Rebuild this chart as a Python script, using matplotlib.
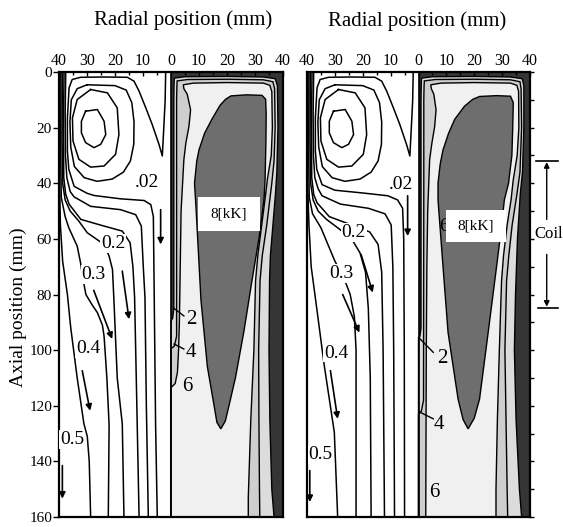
import matplotlib
matplotlib.use('Agg')
import matplotlib.pyplot as plt
from matplotlib.patches import Polygon, Rectangle

plt.rcParams['font.family'] = ['Liberation Serif', 'DejaVu Serif']

# ---- stream function (left half, r < 0), points as (r mm, z mm) ----
VORTEX_LOOPS = [
    [(-30.5, 14.1), (-26.3, 13.5), (-23.9, 17.7), (-23.3, 22.5), (-25.1, 26.0),
     (-27.5, 27.2), (-30.5, 25.4), (-32.0, 21.9), (-32.0, 17.7)],
    [(-28.7, 6.3), (-22.7, 7.5), (-19.2, 12.9), (-18.6, 22.5), (-19.8, 29.6),
     (-23.9, 33.8), (-28.7, 34.2), (-32.9, 31.4), (-35.0, 24.8), (-35.2, 16.5),
     (-33.5, 9.9)],
    [(-30.0, 4.6), (-20.0, 4.9), (-16.0, 6.5), (-14.0, 11.0), (-13.2, 18.0),
     (-13.3, 26.0), (-14.5, 32.0), (-17.0, 36.0), (-21.0, 38.5), (-26.4, 39.3),
     (-31.0, 38.0), (-34.5, 34.0), (-35.8, 27.0), (-36.1, 18.0), (-35.6, 10.0),
     (-33.5, 6.0)],
]

V_LINE = [(-1.9, 0), (-2.1, 10.5), (-2.7, 22.5), (-3.1, 30.2), (-4.3, 26.0),
          (-6.7, 18.9), (-9.0, 12.9), (-11.4, 6.9), (-13.2, 3.3), (-15.6, 1.9),
          (-23.9, 1.8), (-32.3, 1.9), (-35.3, 2.7), (-36.4, 5.7), (-37.0, 16.5),
          (-37.0, 28.4), (-36.5, 35.0)]

STREAMS_A = [
    [(-34.6, 41.1), (-30.0, 43.6), (-27.5, 44.4), (-18.0, 45.6), (-9.6, 46.2),
     (-7.2, 47.7), (-6.3, 52.0), (-6.0, 80.0), (-5.5, 127.0), (-4.9, 160.0)],
    [(-37.6, 0), (-37.8, 15), (-37.7, 30), (-37.2, 38), (-36.0, 43), (-34.6, 44.9),
     (-28.7, 48.3), (-18.0, 49.5), (-12.6, 51.3), (-10.6, 55.4), (-9.9, 70),
     (-9.3, 81), (-8.8, 120), (-8.1, 160)],
    [(-38.2, 0), (-38.4, 20), (-38.3, 38), (-37.6, 44), (-36.4, 47.5), (-32.2, 53),
     (-23.9, 55.4), (-17.4, 57.2), (-14.6, 61.4), (-13.6, 70), (-13.0, 81),
     (-12.2, 120), (-11.4, 160)],
    [(-38.8, 0), (-38.9, 25), (-38.7, 40), (-37.8, 46), (-36.0, 50), (-33.0, 53.5),
     (-29.9, 57.8), (-23.9, 62), (-22.1, 66.2), (-20.9, 71), (-20.4, 81.7),
     (-19.2, 110), (-17.4, 126.5), (-16.8, 160)],
    [(-39.3, 0), (-39.4, 30), (-39.2, 45), (-37.8, 52), (-36.5, 56), (-33.5, 62.6),
     (-32.3, 68.6), (-31.5, 74), (-30.4, 80), (-28.0, 84), (-26.3, 86.5),
     (-24.5, 91), (-23.9, 95), (-22.9, 110), (-22.1, 127), (-22.4, 160)],
    [(-39.7, 0), (-39.8, 40), (-39.5, 55), (-38.7, 68), (-37.0, 80), (-35.8, 92),
     (-33.5, 110), (-31.1, 126.5), (-29.9, 131), (-29.2, 140), (-28.7, 160)],
]

STREAMS_B = [
    [(-34.6, 40.5), (-30.0, 42.5), (-20.0, 43.5), (-11.0, 44.5), (-7.5, 46.0),
     (-5.7, 49.0), (-5.3, 60.0), (-5.1, 100.0), (-5.0, 160.0)],
    [(-37.6, 0), (-37.8, 15), (-37.7, 30), (-37.2, 38), (-36.0, 42), (-34.6, 44.5),
     (-28.0, 47.5), (-18.0, 49.0), (-12.0, 51.0), (-9.8, 55.0), (-9.2, 70),
     (-8.9, 100), (-8.6, 160)],
    [(-38.2, 0), (-38.4, 20), (-38.3, 38), (-37.6, 44), (-36.4, 47), (-32.0, 52),
     (-24.0, 55), (-17.5, 57.5), (-14.5, 62), (-13.2, 72), (-12.7, 100),
     (-12.2, 160)],
    [(-38.8, 0), (-38.9, 25), (-38.7, 40), (-37.8, 46), (-36.0, 50), (-33.0, 53),
     (-29.0, 56), (-24.0, 60), (-21.0, 65), (-19.0, 72), (-18.0, 85),
     (-17.3, 110), (-17.0, 160)],
    [(-39.3, 0), (-39.4, 30), (-39.2, 45), (-38.0, 51), (-35.0, 56), (-32.5, 62),
     (-30.0, 68), (-27.0, 73.5), (-24.5, 80), (-23.0, 88), (-22.4, 100),
     (-22.4, 160)],
    [(-39.7, 0), (-39.8, 40), (-39.3, 55), (-38.5, 70), (-36.5, 85),
     (-33.8, 105.6), (-30.2, 129.5), (-29.0, 160)],
]

STREAM_LABELS = ['.02', '0.2', '0.3', '0.4', '0.5']
STREAM_LABEL_POS_A = [(-8.5, 39.9), (-20.6, 61.7), (-27.7, 72.9), (-29.6, 99.4), (-35.3, 132.1)]
STREAM_LABEL_POS_B = [(-6.3, 40.5), (-23.3, 57.8), (-27.5, 72.5), (-29.6, 101.1), (-35.2, 137.6)]

# flow arrows: (r0, z0, r1, z1)
ARROWS_A = [(-3.7, 49.5, -3.7, 62.0), (-17.4, 71.6, -15.0, 88.9), (-27.6, 78.5, -21.0, 96.0),
            (-31.7, 107.4, -28.9, 121.8), (-38.8, 141.5, -38.8, 153.4)]
ARROWS_B = [(-3.9, 44.5, -3.9, 59.0), (-20.6, 65.6, -16.4, 79.3), (-27.2, 80.0, -21.2, 93.7),
            (-31.6, 107.4, -29.0, 124.7), (-39.0, 143.3, -39.0, 154.6)]

# ---- temperature contours (right half, r > 0), levels 2, 4, 6, 8 kK ----
T2_A = [(1.2, 2.2), (5, 1.7), (20, 1.6), (33, 1.8), (37.2, 2.4), (38.0, 5), (38.2, 20),
        (37.8, 36), (37.3, 44), (36.4, 55), (35.5, 66), (35.2, 75), (35.0, 100),
        (35.3, 125), (36.0, 150), (36.8, 160), (0, 160), (0, 89.5), (0.6, 88.5),
        (1.0, 85), (1.0, 40), (1.0, 10), (1.1, 4)]
T4_A = [(2.2, 3.2), (6, 2.7), (20, 2.6), (33, 2.8), (36.4, 3.5), (37.0, 6), (37.2, 20),
        (36.8, 32), (36.0, 40), (34.2, 55), (32.6, 66), (31.8, 75), (31.3, 100),
        (31.4, 125), (31.6, 150), (31.7, 160), (0, 160), (0, 99.5), (1.2, 98.5),
        (2.0, 95), (2.0, 40), (2.0, 10), (2.1, 5)]
T6_A = [(4.4, 4.6), (8, 4.0), (20, 3.8), (33, 4.0), (35.3, 4.8), (36.0, 7), (36.2, 20),
        (35.8, 30), (34.4, 38.7), (33.8, 44), (32.4, 55), (31.0, 66), (30.2, 75),
        (29.6, 100), (28.5, 125), (27.6, 153), (27.6, 160), (0, 160), (0, 113.5),
        (1.5, 112), (2.3, 108), (2.7, 100), (3.0, 90), (3.3, 70), (3.6, 50),
        (4.6, 31.5), (5.3, 25.6), (6.4, 19.6), (7.0, 13.6), (5.8, 8), (4.6, 6)]
T8_A = [(21.4, 8.6), (27, 8.2), (32.5, 8.4), (33.8, 9.8), (34.0, 15), (33.9, 25),
        (33.6, 38.7), (33.2, 46), (31.4, 60), (29.0, 74.5), (26.0, 93.5), (23.0, 110),
        (20.7, 120), (19.4, 125.5), (17.8, 128.3), (16.4, 126), (15.4, 120),
        (13.0, 106), (10.7, 82), (9.0, 50), (8.4, 40), (9.2, 32), (10.0, 28),
        (12.0, 22), (14.6, 17), (17.5, 12), (19.5, 9.8)]

T2_B = [(1.1, 2.2), (5, 1.7), (20, 1.6), (33, 1.8), (37.2, 2.4), (37.8, 5), (37.8, 20),
        (37.3, 36), (36.5, 44), (35.5, 60), (34.8, 80), (34.4, 100), (35.0, 125),
        (36.2, 150), (37.0, 160), (0, 160), (0, 96), (0.5, 95), (0.9, 92),
        (0.9, 40), (0.9, 10), (1.0, 4)]
T4_B = [(2.1, 3.2), (6, 2.7), (20, 2.6), (33, 2.8), (36.4, 3.5), (36.8, 6), (37.0, 20),
        (36.4, 36), (35.3, 44), (33.6, 55), (32.4, 66), (31.6, 75), (31.0, 100),
        (31.4, 125), (31.8, 150), (32.0, 160), (0, 160), (0, 123), (1.0, 122),
        (1.8, 118), (1.9, 40), (1.9, 10), (2.0, 5)]
T6_B = [(4.4, 4.6), (8, 4.0), (20, 3.8), (33, 4.0), (35.3, 4.8), (35.9, 7), (36.0, 20),
        (35.4, 30), (34.0, 38.7), (33.2, 46), (31.8, 55), (30.5, 66), (29.8, 75),
        (29.0, 100), (28.3, 125), (27.8, 150), (27.8, 160), (2.6, 160), (2.8, 100),
        (3.0, 70), (3.3, 50), (4.0, 31.5), (4.8, 25.6), (5.8, 19.6), (6.3, 13.6),
        (5.5, 8), (4.6, 6)]
T8_B = [(21.9, 8.8), (28, 8.5), (33.0, 8.7), (34.0, 11), (33.8, 20), (33.5, 30),
        (32.3, 40), (30.8, 46), (29.5, 58), (28.0, 70), (25.0, 93.6), (21.9, 117.6),
        (20.0, 124.5), (17.8, 128.3), (16.0, 125), (14.2, 117.6), (10.6, 93.6),
        (8.8, 70), (7.0, 46), (7.0, 40), (7.8, 33), (8.8, 28), (10.8, 22),
        (13.0, 17), (16.5, 12.3), (19.5, 9.8)]

BAND_COLORS = ['#dcdcdc', '#cecece', '#f0f0f0', '#6e6e6e']
DARK = '#353535'

# contour labels: (text, r, z, pointer r0, z0, r1, z1 or None)
T_LABELS_A = [('2', 7.1, 89.0, (1.1, 85.0, 4.6, 87.7)),
              ('4', 7.1, 100.7, (1.1, 97.8, 4.6, 99.6)),
              ('6', 5.8, 113.0, None)]
T_LABELS_B = [('2', 8.6, 102.9, (0.0, 95.4, 5.3, 100.8)),
              ('4', 7.3, 126.8, (0.5, 122.3, 5.3, 124.7)),
              ('6', 5.8, 151.3, None)]

# white box with "8[kK]": r0, r1, z0, z1
BOX_A = (9.6, 31.8, 44.8, 57.3)
BOX_B = (9.7, 31.5, 49.5, 61.3)

# coil extent on the axial axis (mm)
COIL = (32.1, 84.7)

XTICKS = list(range(-40, 41, 10))


def draw_panel(ax, streams, s_lab_pos, arrows, temps, t_labels, box):
    # temperature half
    ax.add_patch(Rectangle((0, 0), 40, 160, facecolor=DARK, edgecolor='none', zorder=1))
    for poly, col in zip(temps, BAND_COLORS):
        ax.add_patch(Polygon(poly, closed=True, facecolor=col, edgecolor='black',
                             lw=1.0, zorder=2))
    ax.plot([0, 0], [0, 160], color='black', lw=1.2, zorder=3)

    # stream function half
    for loop in VORTEX_LOOPS:
        xs = [p[0] for p in loop] + [loop[0][0]]
        zs = [p[1] for p in loop] + [loop[0][1]]
        ax.plot(xs, zs, color='black', lw=1.1, zorder=3)
    first = V_LINE + streams[0]
    ax.plot([p[0] for p in first], [p[1] for p in first], color='black', lw=1.1, zorder=3)
    for line in streams[1:]:
        ax.plot([p[0] for p in line], [p[1] for p in line], color='black', lw=1.1, zorder=3)

    for txt, (r, z) in zip(STREAM_LABELS, s_lab_pos):
        ax.text(r, z, txt, fontsize=14, ha='center', va='center', zorder=4,
                bbox=dict(facecolor='white', edgecolor='none', pad=0.5))
    for r0, z0, r1, z1 in arrows:
        ax.annotate('', xy=(r1, z1), xytext=(r0, z0), zorder=4,
                    arrowprops=dict(arrowstyle='-|>', color='black', lw=1.2,
                                    mutation_scale=9, shrinkA=0, shrinkB=0))

    for txt, r, z, ptr in t_labels:
        ax.text(r, z, txt, fontsize=15, ha='center', va='center', zorder=4)
        if ptr is not None:
            ax.plot([ptr[0], ptr[2]], [ptr[1], ptr[3]], color='black', lw=1.0, zorder=4)

    r0, r1, z0, z1 = box
    ax.add_patch(Rectangle((r0, z0), r1 - r0, z1 - z0, facecolor='white',
                           edgecolor='none', zorder=5))
    ax.text((r0 + r1) / 2, (z0 + z1) / 2, '8[kK]', fontsize=11, ha='center',
            va='center', zorder=6)

    ax.set_xlim(-40, 40)
    ax.set_ylim(160, 0)
    ax.xaxis.tick_top()
    ax.set_xticks(XTICKS)
    ax.set_xticklabels([str(abs(v)) for v in XTICKS], fontsize=11.5)
    ax.set_xticks(range(-35, 40, 10), minor=True)
    ax.tick_params(axis='x', which='major', direction='in', length=3, width=1, pad=2)
    ax.tick_params(axis='x', which='minor', direction='in', length=2, width=1)
    for s in ax.spines.values():
        s.set_linewidth(1.6)


fig = plt.figure(figsize=(5.63, 5.27), dpi=100)
ax1 = fig.add_axes([59 / 563, 1 - 517 / 527, 224 / 563, 445 / 527])
ax2 = fig.add_axes([307 / 563, 1 - 517 / 527, 223 / 563, 445 / 527])

draw_panel(ax1, STREAMS_A, STREAM_LABEL_POS_A, ARROWS_A, [T2_A, T4_A, T6_A, T8_A],
           T_LABELS_A, BOX_A)
draw_panel(ax2, STREAMS_B, STREAM_LABEL_POS_B, ARROWS_B, [T2_B, T4_B, T6_B, T8_B],
           T_LABELS_B, BOX_B)

# partly hidden contour label behind the box in the right panel
ax2.text(9.3, 55.5, '6', fontsize=14, ha='center', va='center', zorder=4)

ax1.set_yticks(range(0, 161, 20))
ax1.tick_params(axis='y', direction='out', length=4, width=1, labelsize=11, pad=1)
ax2.yaxis.tick_right()
ax2.set_yticks(range(0, 161, 10))
ax2.set_yticklabels([])
ax2.tick_params(axis='y', direction='out', length=3, width=1)

# coil marker
cz0, cz1 = COIL
ax2.plot([42.1, 50], [cz0, cz0], color='black', lw=1.2, clip_on=False)
ax2.plot([42.7, 50], [cz1, cz1], color='black', lw=1.2, clip_on=False)
ax2.annotate('', xy=(46, cz0 + 0.3), xytext=(46, 53), annotation_clip=False,
             arrowprops=dict(arrowstyle='-|>', color='black', lw=1.0,
                             mutation_scale=8, shrinkA=0, shrinkB=0))
ax2.annotate('', xy=(46, cz1 - 0.3), xytext=(46, 65.6), annotation_clip=False,
             arrowprops=dict(arrowstyle='-|>', color='black', lw=1.0,
                             mutation_scale=8, shrinkA=0, shrinkB=0))
ax2.text(46.8, 58.4, 'Coil', fontsize=12, ha='center', va='center', clip_on=False)

fig.text(183 / 563, 1 - 20 / 527, 'Radial position (mm)', fontsize=15,
         ha='center', va='center')
fig.text(417 / 563, 1 - 21 / 527, 'Radial position (mm)', fontsize=15,
         ha='center', va='center')
fig.text(18.5 / 563, 1 - 307 / 527, 'Axial position (mm)', fontsize=14,
         ha='center', va='center', rotation=90)

fig.savefig('out.png', dpi=100)
